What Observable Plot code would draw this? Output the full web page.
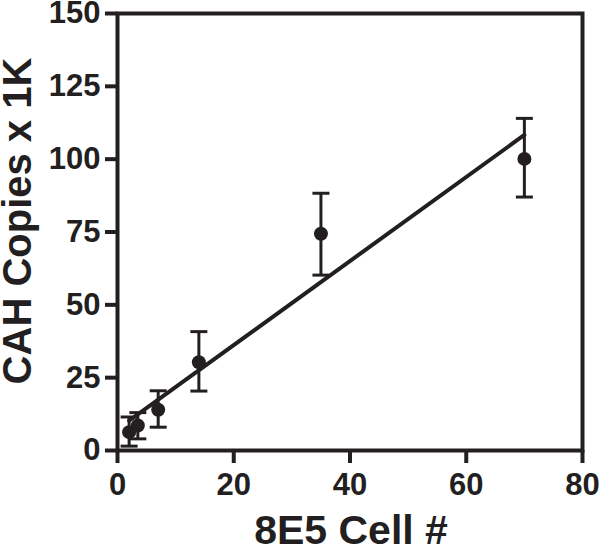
<!DOCTYPE html>
<html>
<head>
<meta charset="utf-8">
<script src="https://cdn.jsdelivr.net/npm/d3@7"></script>
<script src="https://cdn.jsdelivr.net/npm/@observablehq/plot@0.6"></script>
<style>
  html, body { margin: 0; padding: 0; background: #fff; overflow: hidden; }
  #chart svg { display: block; }
</style>
</head>
<body>
<div id="chart"></div>
<script>
// Data
const cellCounts = [2, 3.5, 7, 14, 35, 70];
const copies = [6.3, 8.6, 14, 30.3, 74.4, 100.1];
const copiesLow = [1.5, 4, 8, 20.4, 60.2, 87];
const copiesHigh = [11.5, 13, 20.5, 40.8, 88.3, 114];
const xTicks = [0, 20, 40, 60, 80];
const yTicks = [0, 25, 50, 75, 100, 125, 150];
const xTitle = "8E5 Cell #";
const yTitle = "CAH Copies x 1K";

const data = cellCounts.map((x, i) => ({x, y: copies[i], lo: copiesLow[i], hi: copiesHigh[i]}));

const ink = "#231f20";
const font = "'Liberation Sans', Arial, Helvetica, sans-serif";

const capSymbol = {
  draw(ctx, size) {
    const w = Math.sqrt(size / Math.PI);
    ctx.moveTo(-w, 0);
    ctx.lineTo(w, 0);
  }
};

const chart = Plot.plot({
  width: 600,
  height: 547,
  marginLeft: 117,
  marginRight: 18,
  marginTop: 13,
  marginBottom: 97,
  style: {fontFamily: font, background: "#fff", color: ink},
  x: {domain: [0, 80]},
  y: {domain: [0, 150]},
  marks: [
    Plot.ruleX(data, {x: "x", y1: "lo", y2: "hi", stroke: ink, strokeWidth: 3}),
    Plot.dot(data, {x: "x", y: "lo", symbol: capSymbol, r: 8.5, stroke: ink, strokeWidth: 3, fill: "none"}),
    Plot.dot(data, {x: "x", y: "hi", symbol: capSymbol, r: 8.5, stroke: ink, strokeWidth: 3, fill: "none"}),
    Plot.linearRegressionY(data, {x: "x", y: "y", ci: 0, stroke: ink, strokeWidth: 4}),
    Plot.dot(data, {x: "x", y: "y", r: 7, fill: ink, stroke: "none"}),
    Plot.frame({stroke: ink, strokeWidth: 4}),
    Plot.axisX({ticks: xTicks, tickSize: 13, tickPadding: 9, fontSize: 31, fontWeight: "bold", strokeWidth: 4, stroke: ink, fill: ink, label: null}),
    Plot.axisY({ticks: yTicks, tickSize: 12, tickPadding: 5, fontSize: 31, fontWeight: "bold", strokeWidth: 4, stroke: ink, fill: ink, label: null}),
    Plot.text([xTitle], {frameAnchor: "bottom", text: d => d, dy: 93, dx: 1, fontSize: 41, fontWeight: "bold", fill: ink}),
    Plot.text([yTitle], {frameAnchor: "left", text: d => d, textAnchor: "middle", rotate: -90, dx: -99, dy: -11, fontSize: 40, fontWeight: "bold", fill: ink})
  ]
});

document.getElementById("chart").appendChild(chart);
</script>
</body>
</html>
